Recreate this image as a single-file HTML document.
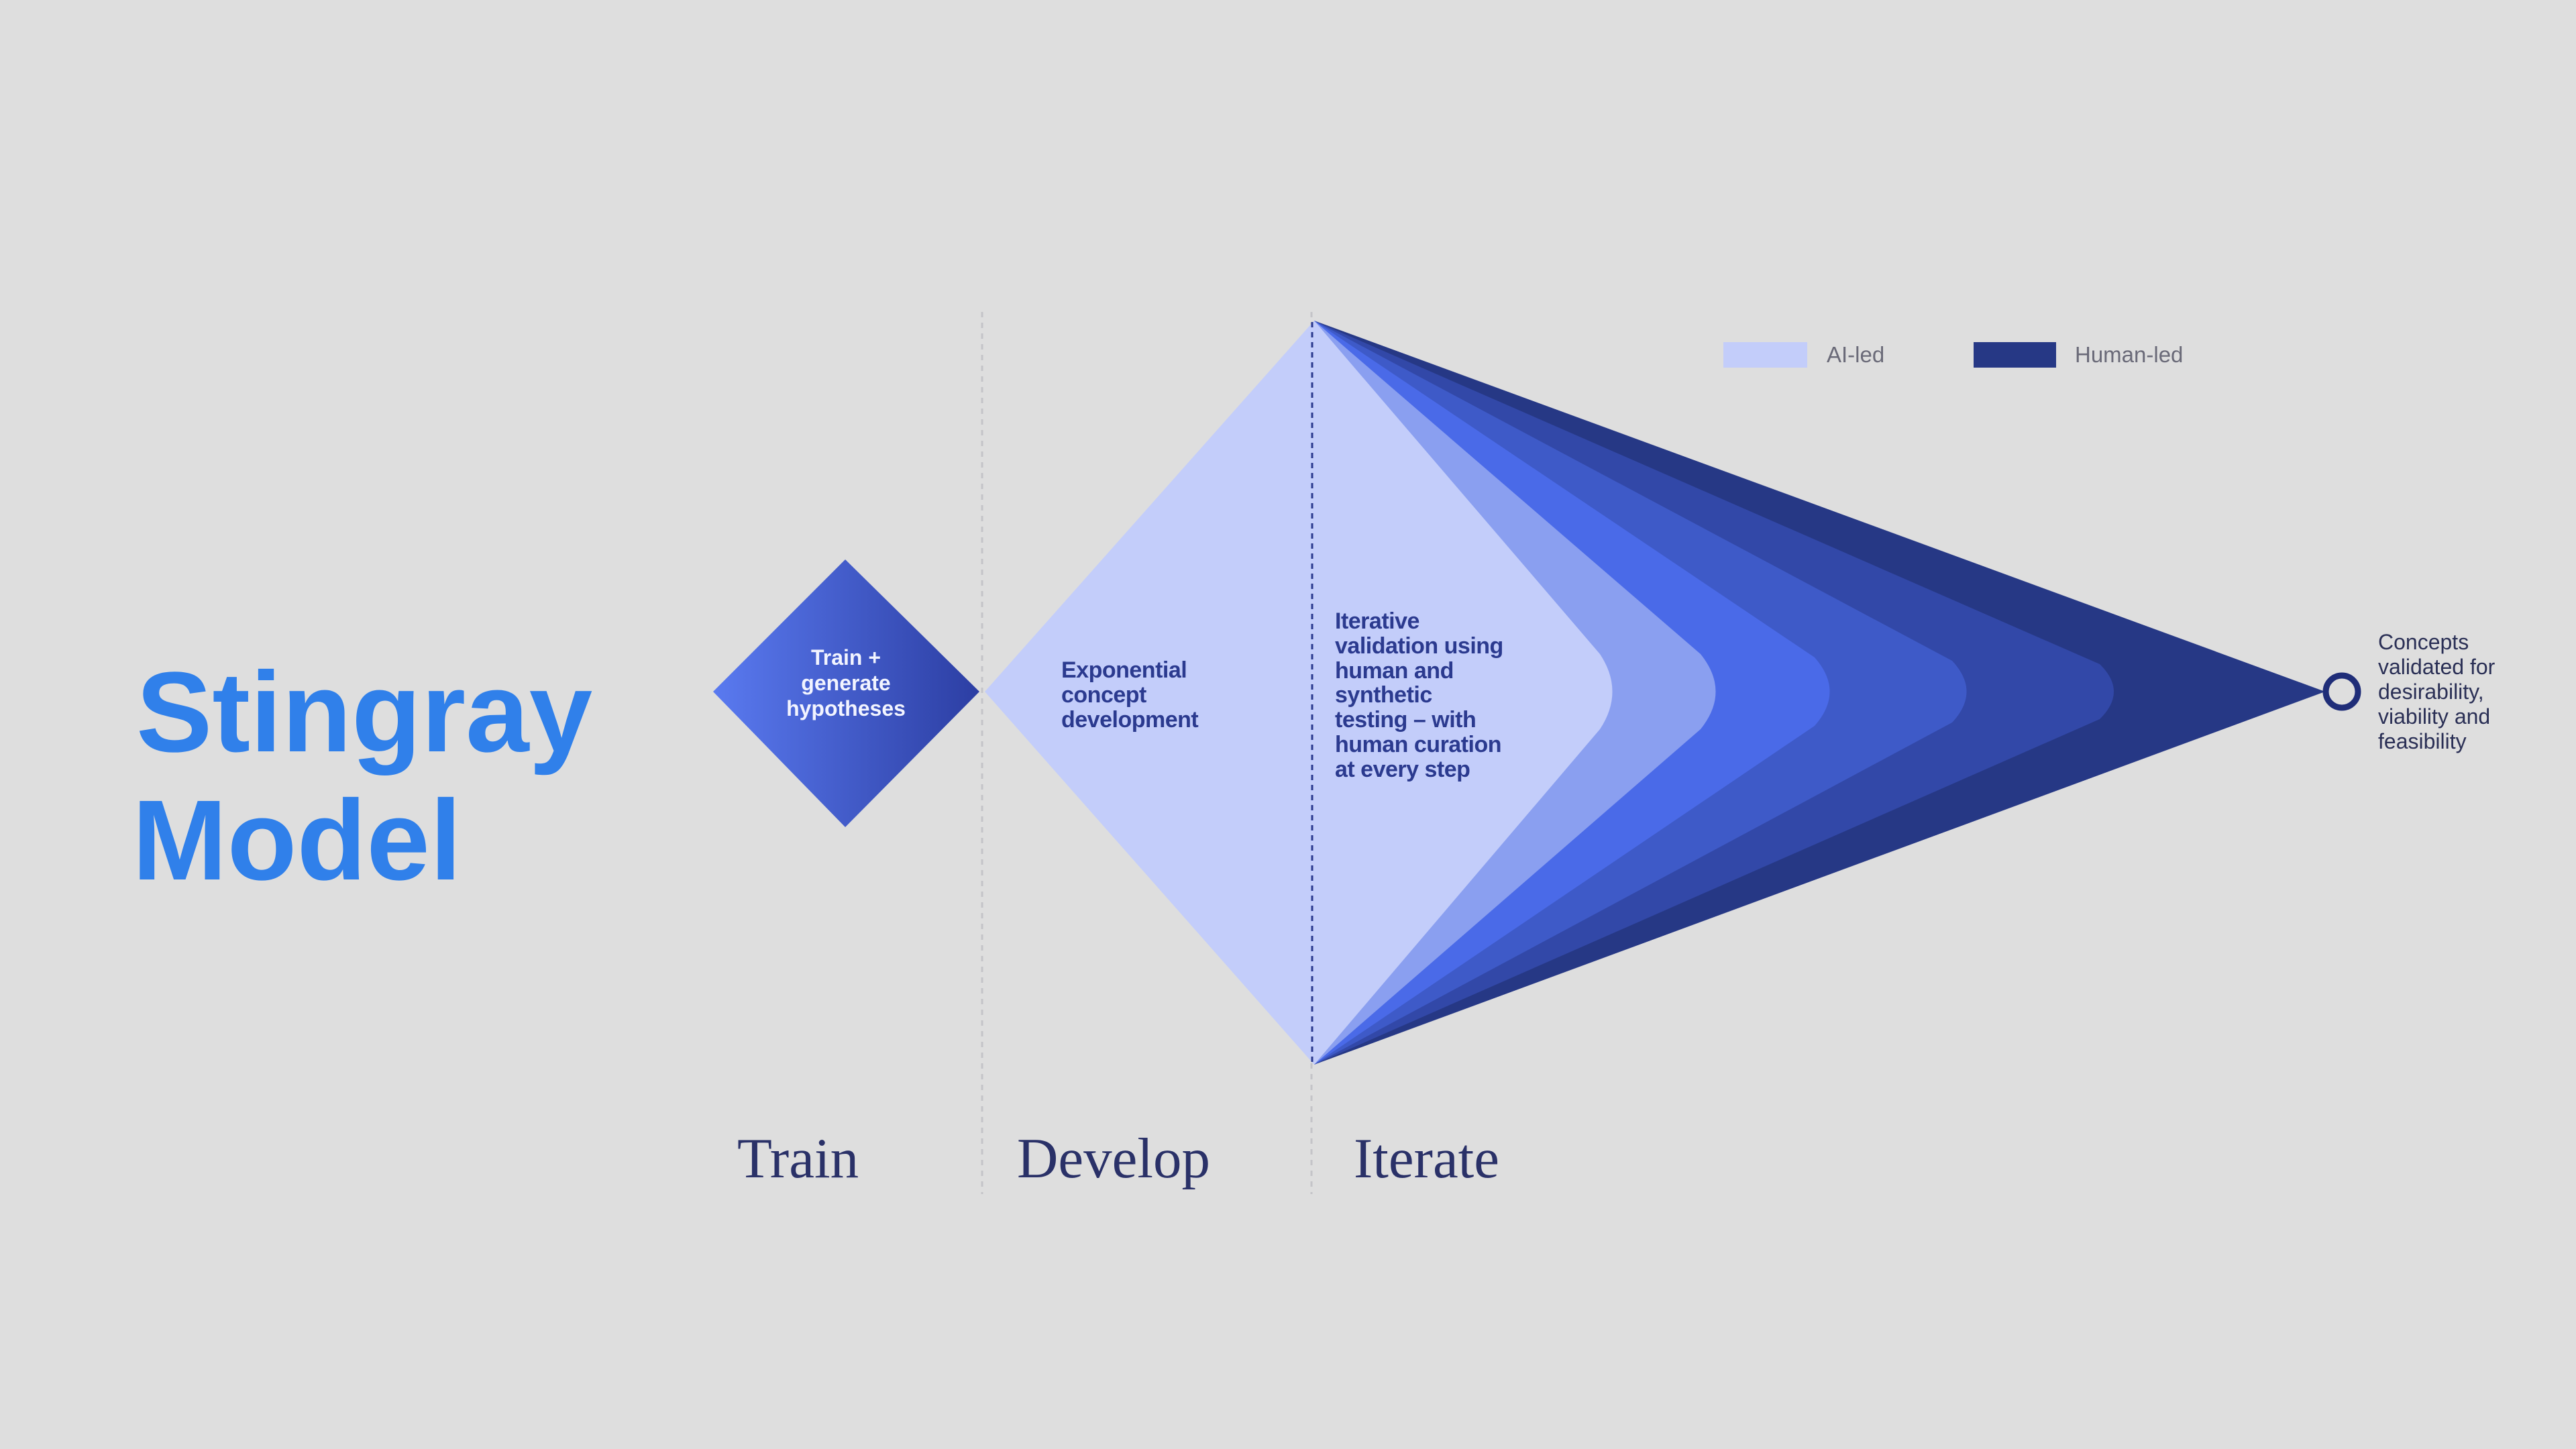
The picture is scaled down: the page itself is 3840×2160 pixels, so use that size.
<!DOCTYPE html>
<html><head><meta charset="utf-8"><style>
html,body{margin:0;padding:0;background:#dedede;}
svg{display:block}
</style></head><body>
<svg width="3840" height="2160" viewBox="0 0 3840 2160" xmlns="http://www.w3.org/2000/svg">
<defs>
<linearGradient id="g1" x1="0" y1="0" x2="1" y2="0">
<stop offset="0" stop-color="#5a7af0"/><stop offset="1" stop-color="#2c3ea3"/>
</linearGradient>
</defs>
<rect width="3840" height="2160" fill="#dedede"/>
<!-- dividers -->
<line x1="1464" y1="465" x2="1464" y2="1780" stroke="#c4c4c8" stroke-width="3" stroke-dasharray="8 8"/>
<line x1="1955" y1="465" x2="1955" y2="1780" stroke="#c4c4c8" stroke-width="3" stroke-dasharray="8 8"/>
<!-- bands -->
<path d="M1959 478 L3466 1031 L1959 1587 Z" fill="#263885"/>
<path d="M1959 478 L3130 990 Q3172 1031 3130 1072 L1959 1587 Z" fill="#3248a8"/>
<path d="M1959 478 L2910 985 Q2953 1031 2910 1077 L1959 1587 Z" fill="#3e5ac8"/>
<path d="M1959 478 L2705 980 Q2750 1031 2705 1082 L1959 1587 Z" fill="#4a6ae8"/>
<path d="M1959 478 L2535 975 Q2580 1031 2535 1087 L1959 1587 Z" fill="#8a9ff0"/>
<path d="M1959 478 L2385 975 Q2422 1031 2385 1087 L1959 1587 Z" fill="#c3cdfa"/>
<path d="M1959 478 L1468 1031 L1959 1587 Z" fill="#c3cdfa"/>
<line x1="1956" y1="480" x2="1956" y2="1585" stroke="#2b3a8f" stroke-width="3" stroke-dasharray="8 7"/>
<!-- small diamond -->
<path d="M1260 834 L1460 1031 L1260 1233 L1063 1031 Z" fill="url(#g1)"/>
<!-- circle -->
<circle cx="3491" cy="1031" r="24" fill="#dedede" stroke="#1f2d78" stroke-width="9"/>
<!-- legend -->
<rect x="2569" y="510" width="125" height="38" fill="#c3cdfa"/>
<rect x="2942" y="510" width="123" height="38" fill="#263885"/>
<g font-family="Liberation Sans, sans-serif" font-size="33" fill="#6a6a78">
<text x="2723" y="540">AI-led</text>
<text x="3093" y="540">Human-led</text>
</g>
<!-- title -->
<g font-family="Liberation Sans, sans-serif" font-weight="bold" font-size="170" fill="#3080ea">
<text x="203" y="1120">Stingray</text>
<text x="197" y="1311">Model</text>
</g>
<!-- phase labels -->
<g font-family="Liberation Serif, serif" font-size="85" fill="#2a3168">
<text x="1099" y="1755">Train</text>
<text x="1516" y="1755">Develop</text>
<text x="2018" y="1755">Iterate</text>
</g>
<!-- diamond text -->
<g font-family="Liberation Sans, sans-serif" font-weight="bold" font-size="32" fill="#f2f4ff" text-anchor="middle">
<text x="1261" y="991">Train +</text>
<text x="1261" y="1029">generate</text>
<text x="1261" y="1067">hypotheses</text>
</g>
<g font-family="Liberation Sans, sans-serif" font-weight="bold" font-size="34" fill="#2b3a8f" letter-spacing="-0.5">
<text x="1582" y="1010">Exponential</text>
<text x="1582" y="1047">concept</text>
<text x="1582" y="1084">development</text>
</g>
<g font-family="Liberation Sans, sans-serif" font-weight="bold" font-size="34" fill="#2b3a8f" letter-spacing="-0.5">
<text x="1990" y="937">Iterative</text>
<text x="1990" y="974">validation using</text>
<text x="1990" y="1011">human and</text>
<text x="1990" y="1047">synthetic</text>
<text x="1990" y="1084">testing – with</text>
<text x="1990" y="1121">human curation</text>
<text x="1990" y="1158">at every step</text>
</g>
<g font-family="Liberation Sans, sans-serif" font-size="32" fill="#2a2f55">
<text x="3545" y="968">Concepts</text>
<text x="3545" y="1005">validated for</text>
<text x="3545" y="1042">desirability,</text>
<text x="3545" y="1079">viability and</text>
<text x="3545" y="1116">feasibility</text>
</g>
</svg>
</body></html>
